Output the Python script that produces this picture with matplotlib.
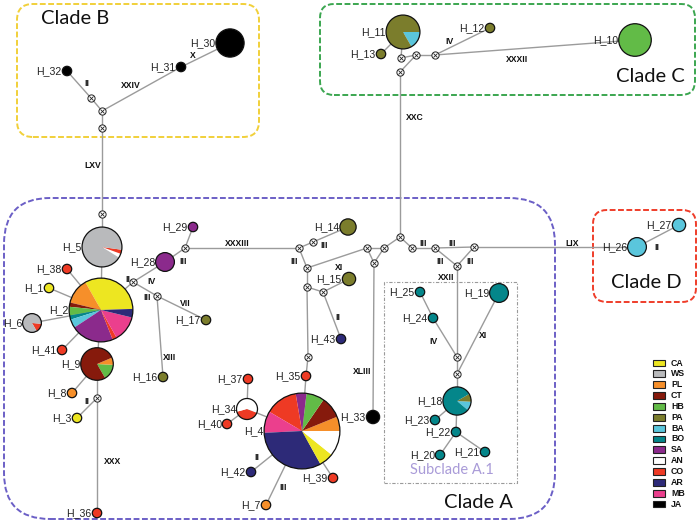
import matplotlib
matplotlib.use("Agg")
import matplotlib.pyplot as plt
from matplotlib.patches import Wedge, Circle, FancyBboxPatch, Rectangle
import numpy as np

W, H = 700, 525

# ---------------- data ----------------
populations = ["CA", "WS", "PL", "CT", "HB", "PA", "BA", "BO", "SA", "AN", "CO", "AR", "MB", "JA"]
pop_colors = {
    "CA": "#ede621", "WS": "#b9babc", "PL": "#f68f2a", "CT": "#861a0c", "HB": "#62bb47",
    "PA": "#7b7d2c", "BA": "#5ac6dc", "BO": "#04868a", "SA": "#8b2a8c", "AN": "#ffffff",
    "CO": "#ee3a24", "AR": "#2d2a78", "MB": "#eb3f8d", "JA": "#000000",
}

haplotypes = ["H_1", "H_2", "H_3", "H_4", "H_5", "H_6", "H_7", "H_8", "H_9", "H_10",
              "H_11", "H_12", "H_13", "H_14", "H_15", "H_16", "H_17", "H_18", "H_19", "H_20",
              "H_21", "H_22", "H_23", "H_24", "H_25", "H_26", "H_27", "H_28", "H_29", "H_30",
              "H_31", "H_32", "H_33", "H_34", "H_35", "H_36", "H_37", "H_38", "H_39", "H_40",
              "H_41", "H_42", "H_43"]
hap_counts = [1, 46, 1, 65, 18, 4, 1, 1, 12, 12,
              13, 1, 1, 3, 2, 1, 1, 9, 4, 1,
              1, 1, 1, 1, 1, 4, 2, 4, 1, 9,
              1, 1, 2, 5, 1, 1, 1, 1, 1, 1,
              1, 1, 1]
# composition: list of (population, share) going counter-clockwise
hap_pops = {
    "H_1": [("CA", 1)], "H_3": [("CA", 1)], "H_7": [("PL", 1)], "H_8": [("PL", 1)],
    "H_10": [("HB", 1)], "H_12": [("PA", 1)], "H_13": [("PA", 1)], "H_14": [("PA", 1)],
    "H_15": [("PA", 1)], "H_16": [("PA", 1)], "H_17": [("PA", 1)], "H_19": [("BO", 1)],
    "H_20": [("BO", 1)], "H_21": [("BO", 1)], "H_22": [("BO", 1)], "H_23": [("BO", 1)],
    "H_24": [("BO", 1)], "H_25": [("BO", 1)], "H_26": [("BA", 1)], "H_27": [("BA", 1)],
    "H_28": [("SA", 1)], "H_29": [("SA", 1)], "H_30": [("JA", 1)], "H_31": [("JA", 1)],
    "H_32": [("JA", 1)], "H_33": [("JA", 1)], "H_35": [("CO", 1)], "H_36": [("CO", 1)],
    "H_37": [("CO", 1)], "H_38": [("CO", 1)], "H_39": [("CO", 1)], "H_40": [("CO", 1)],
    "H_41": [("CO", 1)], "H_42": [("AR", 1)], "H_43": [("AR", 1)],
    "H_2": [("CA", 15), ("PL", 6), ("CT", 1), ("HB", 2), ("BO", 1), ("BA", 2),
            ("SA", 10), ("CO", 1), ("MB", 6), ("AR", 2)],
    "H_4": [("PL", 4), ("CT", 6), ("HB", 5), ("SA", 3), ("CO", 9), ("MB", 6),
            ("AR", 21), ("CA", 4), ("AN", 7)],
    "H_5": [("AN", 12), ("CO", 12), ("WS", 336)],
    "H_6": [("CO", 55), ("WS", 305)],
    "H_9": [("HB", 57), ("PL", 26), ("CT", 277)],
    "H_11": [("BA", 60), ("PA", 300)],
    "H_18": [("BA", 37), ("PA", 33), ("BO", 290)],
    "H_34": [("CO", 2), ("AN", 3)],
}

# ---------------- layout (pixel coords, y down) ----------------
pie_start = {"H_2": 2, "H_4": 0, "H_5": -32, "H_6": -60, "H_9": -60,
             "H_11": -60, "H_18": -40, "H_34": 195}
hap_pos = {
    "H_1": (49, 288), "H_2": (101, 310), "H_3": (77, 418), "H_4": (302, 431),
    "H_5": (102, 247), "H_6": (32, 323), "H_7": (266, 505), "H_8": (72, 393),
    "H_9": (97, 364), "H_10": (635, 40), "H_11": (403, 32), "H_12": (490, 28),
    "H_13": (381, 54), "H_14": (348, 227), "H_15": (349, 279), "H_16": (163, 377),
    "H_17": (206, 320), "H_18": (457, 401), "H_19": (499, 293), "H_20": (440, 455),
    "H_21": (485, 452), "H_22": (456, 432), "H_23": (435, 420), "H_24": (433, 318),
    "H_25": (420, 292), "H_26": (637, 247), "H_27": (679, 225), "H_28": (165, 262),
    "H_29": (193, 227), "H_30": (230, 43), "H_31": (181, 67), "H_32": (67, 71),
    "H_33": (373, 417), "H_34": (247, 409), "H_35": (306, 376), "H_36": (97, 513),
    "H_37": (248, 379), "H_38": (67, 269), "H_39": (333, 478), "H_40": (227, 424),
    "H_41": (62, 350), "H_42": (251, 472), "H_43": (341, 339),
}
median_pos = {
    "b1": (91, 98), "b2": (102, 111), "b3": (102, 128), "b4": (102, 214),
    "c1": (401, 58), "c2": (416, 55), "c3": (435, 55), "c4": (400, 72),
    "m1": (185, 248), "m2": (299, 248), "m3": (313, 242), "m4": (307, 268),
    "m5": (367, 248), "m6": (384, 248), "m7": (400, 237), "m8": (412, 248),
    "m9": (374, 263), "m10": (435, 248), "m11": (457, 266), "m12": (474, 247),
    "m13": (307, 287), "m14": (323, 292), "m15": (308, 357),
    "m16": (457, 357), "m17": (457, 374),
    "m18": (133, 282), "m19": (157, 296), "m20": (97, 398),
}
edges = [
    ("H_32", "b1"), ("b1", "b2"), ("b2", "H_31"), ("H_31", "H_30"), ("b2", "b3"),
    ("b3", "b4"), ("b4", "H_5"),
    ("H_11", "c1"), ("H_13", "H_11"), ("c1", "c2"), ("c4", "c2"), ("c2", "c3"),
    ("c3", "H_12"), ("c3", "H_10"), ("c4", "m7"),
    ("H_28", "m1"), ("m1", "H_29"), ("m1", "m2"), ("m2", "m3"), ("m3", "H_14"),
    ("m2", "m4"), ("m4", "m5"), ("m5", "m6"), ("m5", "m9"), ("m6", "m9"), ("m6", "m7"),
    ("m7", "m8"), ("m8", "m10"), ("m10", "m11"), ("m10", "m12"), ("m11", "m12"),
    ("m12", "H_26"), ("H_26", "H_27"), ("m9", "H_33"), ("m4", "m13"), ("m13", "m14"),
    ("m14", "H_15"), ("m14", "H_43"), ("m13", "m15"), ("m15", "H_35"), ("H_35", "H_4"),
    ("H_4", "H_34"), ("H_34", "H_37"), ("H_34", "H_40"), ("H_4", "H_42"), ("H_4", "H_7"),
    ("H_4", "H_39"),
    ("m11", "m16"), ("m16", "H_24"), ("H_24", "H_25"), ("m16", "m17"), ("H_19", "m17"),
    ("m17", "H_18"), ("H_18", "H_23"), ("H_18", "H_22"), ("H_22", "H_20"), ("H_22", "H_21"),
    ("H_5", "H_2"), ("H_38", "H_2"), ("H_1", "H_2"), ("H_6", "H_2"), ("H_41", "H_2"),
    ("H_2", "H_9"), ("H_9", "H_8"), ("H_9", "m20"), ("m20", "H_3"), ("m20", "H_36"),
    ("H_2", "m18"), ("m18", "H_28"), ("m18", "m19"), ("m19", "H_17"), ("m19", "H_16"),
]
mut_labels = [
    ("II", 87, 83), ("XXIV", 131, 86), ("X", 193, 55), ("LXV", 93, 165),
    ("IV", 449, 41), ("XXXII", 517, 60), ("XXC", 415, 117),
    ("II", 128, 279), ("IV", 152, 281), ("III", 147, 297), ("VII", 185, 304),
    ("XIII", 170, 358), ("III", 183, 261), ("II", 87, 402), ("XXX", 113, 462),
    ("XXXIII", 237, 244), ("III", 324, 245), ("III", 294, 262), ("XI", 339, 267),
    ("II", 338, 317), ("XLIII", 362, 371), ("II", 257, 457), ("III", 283, 487),
    ("III", 423, 243), ("III", 452, 243), ("III", 440, 262), ("III", 470, 262),
    ("XXII", 446, 277), ("LIX", 572, 243), ("II", 657, 247),
    ("IV", 434, 341), ("XI", 483, 335),
]
clade_boxes = [  # x0, y0, x1, y1, rounding, colour, label, label x, label y
    (17, 4, 259, 137, 16, "#f1d03a", "Clade B", 75, 18),
    (320, 4, 695, 95, 14, "#3ba650", "Clade C", 650, 76),
    (4, 198, 555, 519, 46, "#6b5fc6", "Clade A", 478, 503),
    (593, 210, 696, 302, 14, "#ef3d2a", "Clade D", 646, 282),
]


def Y(y):
    return H - y


def radius(n):
    return 4.7 * np.sqrt(n)


fig = plt.figure(figsize=(7, 5.25), dpi=100)
ax = fig.add_axes([0, 0, 1, 1])
ax.set_xlim(0, W)
ax.set_ylim(0, H)
ax.set_aspect("equal")
ax.axis("off")

# boxes
for x0, y0, x1, y1, rs, col, lab, lx, ly in clade_boxes:
    ax.add_patch(FancyBboxPatch((x0, Y(y1)), x1 - x0, y1 - y0,
                                boxstyle=f"round,pad=0,rounding_size={rs}",
                                fill=False, ec=col, lw=1.4, ls=(0, (3.0, 1.3)), zorder=1))
    ax.text(lx, Y(ly), lab, fontsize=14.5, family="Lato", ha="center", va="center",
            color="#111111", zorder=6)
ax.add_patch(Rectangle((384, Y(483)), 133, 201, fill=False, ec="#9a9a9a", lw=0.8,
                       ls=(0, (3, 1.5, 1, 1.5)), zorder=1))
ax.text(452, Y(470), "Subclade A.1", fontsize=10.5, family="Lato", color="#a99bd8",
        ha="center", va="center", zorder=6)

# edges
allpos = {**hap_pos, **median_pos}
for a, b in edges:
    xa, ya = allpos[a]
    xb, yb = allpos[b]
    ax.plot([xa, xb], [Y(ya), Y(yb)], color="#9b9b9b", lw=1.0, zorder=2,
            solid_capstyle="butt")

# haplotype nodes
for name, n in zip(haplotypes, hap_counts):
    x, y = hap_pos[name]
    r = radius(n)
    comp = hap_pops[name]
    tot = sum(w for _, w in comp)
    a = pie_start.get(name, 0)
    for pop, w in comp:
        span = 360.0 * w / tot
        ax.add_patch(Wedge((x, Y(y)), r, a, a + span, fc=pop_colors[pop], ec="none",
                           zorder=3))
        a += span
    ax.add_patch(Circle((x, Y(y)), r, fill=False, ec="#111111", lw=0.9, zorder=3.5))
    ax.text(x - r - 0.5, Y(y), name, fontsize=7.6, family="Liberation Sans",
            ha="right", va="center", color="#222222", zorder=6)

# median vectors
mx = [p[0] for p in median_pos.values()]
my = [Y(p[1]) for p in median_pos.values()]
ax.plot(mx, my, ls="none", marker="o", ms=5.2, mfc="white", mec="#222222", mew=0.7,
        zorder=4)
ax.plot(mx, my, ls="none", marker="x", ms=3.0, mec="#222222", mew=0.6, zorder=4.5)

# mutation labels
for t, x, y in mut_labels:
    ax.text(x, Y(y), t, fontsize=6.2, family="Liberation Sans", weight="bold",
            ha="center", va="center", color="#111111", zorder=6)

# legend
for i, pop in enumerate(populations):
    yy = 363 + i * 10.85
    ax.add_patch(Rectangle((653, Y(yy) - 3.4), 12, 6.8, fc=pop_colors[pop],
                           ec="#222222", lw=0.8, zorder=5))
    ax.text(671, Y(yy), pop, fontsize=6.3, family="Liberation Sans", weight="bold",
            ha="left", va="center", color="#111111", zorder=6)

fig.savefig("out.png", dpi=100, facecolor="white")
